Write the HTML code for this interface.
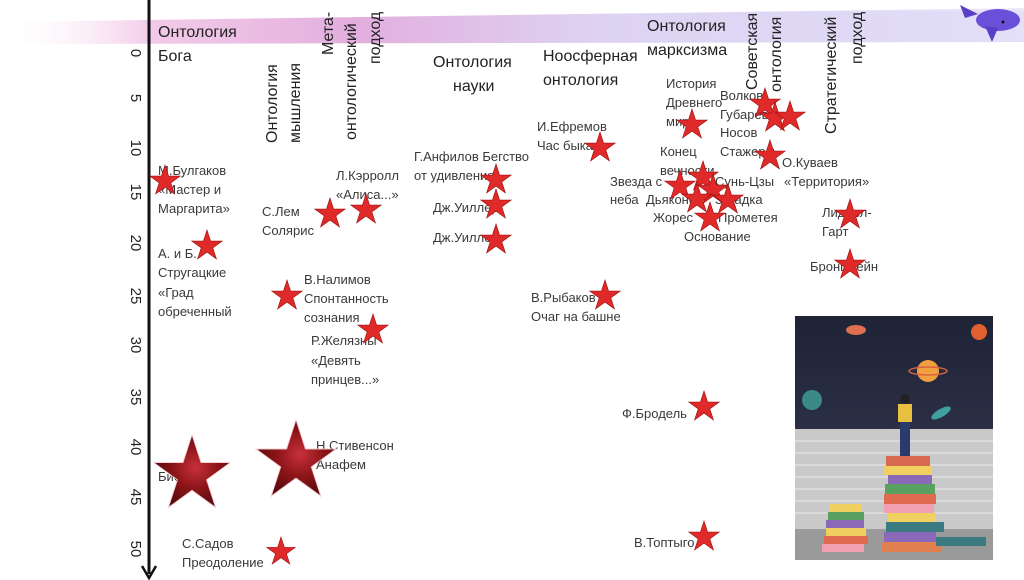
<!DOCTYPE html>
<html><head><meta charset="utf-8"><style>
html,body{margin:0;padding:0;background:#fff;}
svg{display:block;font-family:"Liberation Sans","DejaVu Sans",sans-serif;}
.l{font-size:13px;fill:#3a3a3a;}
.h{font-size:16px;fill:#222;}
.t{font-size:15px;fill:#222;}
</style></head><body>
<svg width="1024" height="580" viewBox="0 0 1024 580">
<defs>
<linearGradient id="band" x1="0" y1="0" x2="1" y2="0">
<stop offset="0" stop-color="#fff" stop-opacity="0"/>
<stop offset="0.15" stop-color="#e9a6d8" stop-opacity="0.6"/>
<stop offset="0.35" stop-color="#d68bd0" stop-opacity="0.7"/>
<stop offset="0.6" stop-color="#c7b7ea" stop-opacity="0.6"/>
<stop offset="1" stop-color="#dcd8f6" stop-opacity="0.8"/>
</linearGradient>
<linearGradient id="bandv" x1="0" y1="0" x2="0" y2="1">
<stop offset="0" stop-color="#fff" stop-opacity="1"/>
<stop offset="1" stop-color="#fff" stop-opacity="0"/>
</linearGradient>
<radialGradient id="big" cx="0.55" cy="0.45" r="0.6">
<stop offset="0" stop-color="#c8303a"/>
<stop offset="0.5" stop-color="#8a1418"/>
<stop offset="1" stop-color="#4e0a0c"/>
</radialGradient>
<polygon id="s" points="0,-1 0.2245,-0.309 0.951,-0.309 0.363,0.118 0.588,0.809 0,0.382 -0.588,0.809 -0.363,0.118 -0.951,-0.309 -0.2245,-0.309"/>
<linearGradient id="sky" x1="0" y1="0" x2="0" y2="1"><stop offset="0" stop-color="#1f2336"/><stop offset="1" stop-color="#2b2f45"/></linearGradient>
</defs>
<!-- top band -->
<path d="M0,22 L1024,8 L1024,42 L0,44 Z" fill="url(#band)"/>
<rect x="0" y="0" width="1024" height="12" fill="url(#bandv)"/>
<!-- whale -->
<ellipse cx="998" cy="20" rx="22" ry="11" fill="#6a4fd8"/>
<path d="M960,5 L978,14 L965,18 Z" fill="#5a3fc8"/>
<path d="M985,26 L992,42 L998,28 Z" fill="#5a3fc8"/>
<circle cx="1003" cy="22" r="1.5" fill="#111"/>
<!-- axis -->
<line x1="149" y1="0" x2="149" y2="574" stroke="#111" stroke-width="3"/>
<path d="M142,566 L149,578 L156,566" fill="none" stroke="#111" stroke-width="2.5"/>
<g class="t">
<text transform="translate(131,53) rotate(90)" text-anchor="middle">0</text>
<text transform="translate(131,98) rotate(90)" text-anchor="middle">5</text>
<text transform="translate(131,148) rotate(90)" text-anchor="middle">10</text>
<text transform="translate(131,192) rotate(90)" text-anchor="middle">15</text>
<text transform="translate(131,243) rotate(90)" text-anchor="middle">20</text>
<text transform="translate(131,296) rotate(90)" text-anchor="middle">25</text>
<text transform="translate(131,345) rotate(90)" text-anchor="middle">30</text>
<text transform="translate(131,397) rotate(90)" text-anchor="middle">35</text>
<text transform="translate(131,447) rotate(90)" text-anchor="middle">40</text>
<text transform="translate(131,497) rotate(90)" text-anchor="middle">45</text>
<text transform="translate(131,549) rotate(90)" text-anchor="middle">50</text>
</g>
<!-- headers -->
<g class="h">
<text x="158" y="37">Онтология</text><text x="158" y="61">Бога</text>
<text transform="translate(277,143) rotate(-90)">Онтология</text>
<text transform="translate(300,143) rotate(-90)">мышления</text>
<text transform="translate(333,55) rotate(-90)">Мета-</text>
<text transform="translate(356,140) rotate(-90)">онтологический</text>
<text transform="translate(380,64) rotate(-90)">подход</text>
<text x="433" y="67">Онтология</text><text x="453" y="91">науки</text>
<text x="543" y="61">Ноосферная</text><text x="543" y="85">онтология</text>
<text x="647" y="31">Онтология</text><text x="647" y="55">марксизма</text>
<text transform="translate(757,90) rotate(-90)">Советская</text>
<text transform="translate(781,92) rotate(-90)">онтология</text>
<text transform="translate(836,134) rotate(-90)">Стратегический</text>
<text transform="translate(862,64) rotate(-90)">подход</text>
</g>
<!-- labels -->
<g class="l">
<text x="158" y="175">М.Булгаков</text><text x="158" y="194">«Мастер и</text><text x="158" y="213">Маргарита»</text>
<text x="158" y="258">А. и Б.</text><text x="158" y="277">Стругацкие</text><text x="158" y="297">«Град</text><text x="158" y="316">обреченный</text>
<text x="262" y="216">С.Лем</text><text x="262" y="235">Солярис</text>
<text x="336" y="180">Л.Кэрролл</text><text x="336" y="199">«Алиса...»</text>
<text x="414" y="161">Г.Анфилов Бегство</text><text x="414" y="180">от удивления</text>
<text x="433" y="212">Дж.Уиллер</text><text x="433" y="242">Дж.Уиллер</text>
<text x="304" y="284">В.Налимов</text><text x="304" y="303">Спонтанность</text><text x="304" y="322">сознания</text>
<text x="311" y="345">Р.Желязны</text><text x="311" y="365">«Девять</text><text x="311" y="384">принцев...»</text>
<text x="158" y="481">Библия</text>
<text x="316" y="450">Н.Стивенсон</text><text x="316" y="469">Анафем</text>
<text x="182" y="548">С.Садов</text><text x="182" y="567">Преодоление</text>
<text x="537" y="131">И.Ефремов</text><text x="537" y="150">Час быка</text>
<text x="531" y="302">В.Рыбаков</text><text x="531" y="321">Очаг на башне</text>
<text x="622" y="418">Ф.Бродель</text>
<text x="634" y="547">В.Топтыго</text>
<text x="666" y="88">История</text><text x="666" y="107">Древнего</text><text x="666" y="126">мира</text>
<text x="720" y="100">Волков</text><text x="720" y="119">Губарев</text><text x="720" y="137">Носов</text><text x="720" y="156">Стажеры</text>
<text x="782" y="167">О.Куваев</text><text x="784" y="186">«Территория»</text>
<text x="660" y="156">Конец</text><text x="660" y="175">вечности</text>
<text x="610" y="186">Звезда с</text><text x="610" y="204">неба</text>
<text x="646" y="204">Дьяконов</text>
<text x="715" y="186">Сунь-Цзы</text><text x="715" y="204">Загадка</text>
<text x="653" y="222">Жорес</text><text x="718" y="222">Прометея</text>
<text x="684" y="241">Основание</text>
<text x="822" y="217">Лиддел-</text><text x="822" y="236">Гарт</text>
<text x="810" y="271">Бронштейн</text>
</g>
<!-- stars -->
<g fill="#e02a2a" stroke="#a01010" stroke-width="0.04">
<use href="#s" transform="translate(165,181) scale(16)"/>
<use href="#s" transform="translate(207,246) scale(16)"/>
<use href="#s" transform="translate(330,214) scale(16)"/>
<use href="#s" transform="translate(366,210) scale(16)"/>
<use href="#s" transform="translate(496,180) scale(16)"/>
<use href="#s" transform="translate(496,205) scale(16)"/>
<use href="#s" transform="translate(496,240) scale(16)"/>
<use href="#s" transform="translate(287,296) scale(16)"/>
<use href="#s" transform="translate(373,330) scale(16)"/>
<use href="#s" transform="translate(281,552) scale(15)"/>
<use href="#s" transform="translate(600,148) scale(16)"/>
<use href="#s" transform="translate(605,296) scale(16)"/>
<use href="#s" transform="translate(704,407) scale(16)"/>
<use href="#s" transform="translate(704,537) scale(16)"/>
<use href="#s" transform="translate(692,125) scale(16)"/>
<use href="#s" transform="translate(765,104) scale(16)"/>
<use href="#s" transform="translate(775,118) scale(16)"/>
<use href="#s" transform="translate(790,117) scale(16)"/>
<use href="#s" transform="translate(770,156) scale(16)"/>
<use href="#s" transform="translate(680,186) scale(16)"/>
<use href="#s" transform="translate(703,177) scale(16)"/>
<use href="#s" transform="translate(713,190) scale(16)"/>
<use href="#s" transform="translate(697,199) scale(16)"/>
<use href="#s" transform="translate(728,200) scale(16)"/>
<use href="#s" transform="translate(710,218) scale(16)"/>
<use href="#s" transform="translate(850,215) scale(16)"/>
<use href="#s" transform="translate(850,265) scale(16)"/>
</g>
<g fill="url(#big)" stroke="#f2c0c8" stroke-width="0.02">
<use href="#s" transform="translate(192,475) scale(40)"/>
<use href="#s" transform="translate(296,462) scale(42)"/>
</g>
<!-- picture -->
<g>
<rect x="795" y="316" width="198" height="244" fill="#d8d8d8"/>
<rect x="795" y="316" width="198" height="113" fill="url(#sky)"/>
<rect x="795" y="429" width="198" height="100" fill="#c9c9c9"/>
<g stroke="#e4e4e4" stroke-width="1.2">
<line x1="795" y1="441" x2="993" y2="441"/><line x1="795" y1="453" x2="993" y2="453"/>
<line x1="795" y1="465" x2="993" y2="465"/><line x1="795" y1="477" x2="993" y2="477"/>
<line x1="795" y1="489" x2="993" y2="489"/><line x1="795" y1="501" x2="993" y2="501"/>
<line x1="795" y1="513" x2="993" y2="513"/>
</g>
<rect x="795" y="529" width="198" height="31" fill="#9a9a9a"/>
<circle cx="928" cy="371" r="11" fill="#f0a040"/>
<ellipse cx="928" cy="371" rx="19" ry="4" fill="none" stroke="#d86040" stroke-width="1.5"/>
<circle cx="812" cy="400" r="10" fill="#3a8a8a"/>
<circle cx="979" cy="332" r="8" fill="#e06030"/>
<ellipse cx="856" cy="330" rx="10" ry="5" fill="#e07050"/>
<ellipse cx="941" cy="413" rx="11" ry="4" fill="#40a0a0" transform="rotate(-30 941 413)"/>
<rect x="898" y="404" width="14" height="18" fill="#e8c040"/>
<rect x="900" y="422" width="10" height="34" fill="#2a3a6a"/>
<circle cx="905" cy="399" r="5" fill="#222"/>
<rect x="886" y="456" width="44" height="10" fill="#d86a50"/>
<rect x="884" y="466" width="48" height="9" fill="#f0d060"/>
<rect x="888" y="475" width="44" height="9" fill="#8a6ab8"/>
<rect x="885" y="484" width="50" height="10" fill="#5aa060"/>
<rect x="884" y="494" width="52" height="10" fill="#e06a50"/>
<rect x="884" y="504" width="50" height="9" fill="#f0a0b0"/>
<rect x="888" y="513" width="48" height="9" fill="#f0d060"/>
<rect x="886" y="522" width="58" height="10" fill="#3a7a80"/>
<rect x="884" y="532" width="52" height="10" fill="#8a6ab8"/>
<rect x="882" y="542" width="60" height="10" fill="#e08050"/>
<rect x="936" y="537" width="50" height="9" fill="#3a7a80"/>
<rect x="830" y="504" width="32" height="8" fill="#f0d060"/>
<rect x="828" y="512" width="36" height="8" fill="#5aa060"/>
<rect x="826" y="520" width="38" height="8" fill="#8a6ab8"/>
<rect x="826" y="528" width="40" height="8" fill="#f0d060"/>
<rect x="824" y="536" width="44" height="8" fill="#e06a50"/>
<rect x="822" y="544" width="42" height="8" fill="#f0a0b0"/>
</g>
</svg>
</body></html>
